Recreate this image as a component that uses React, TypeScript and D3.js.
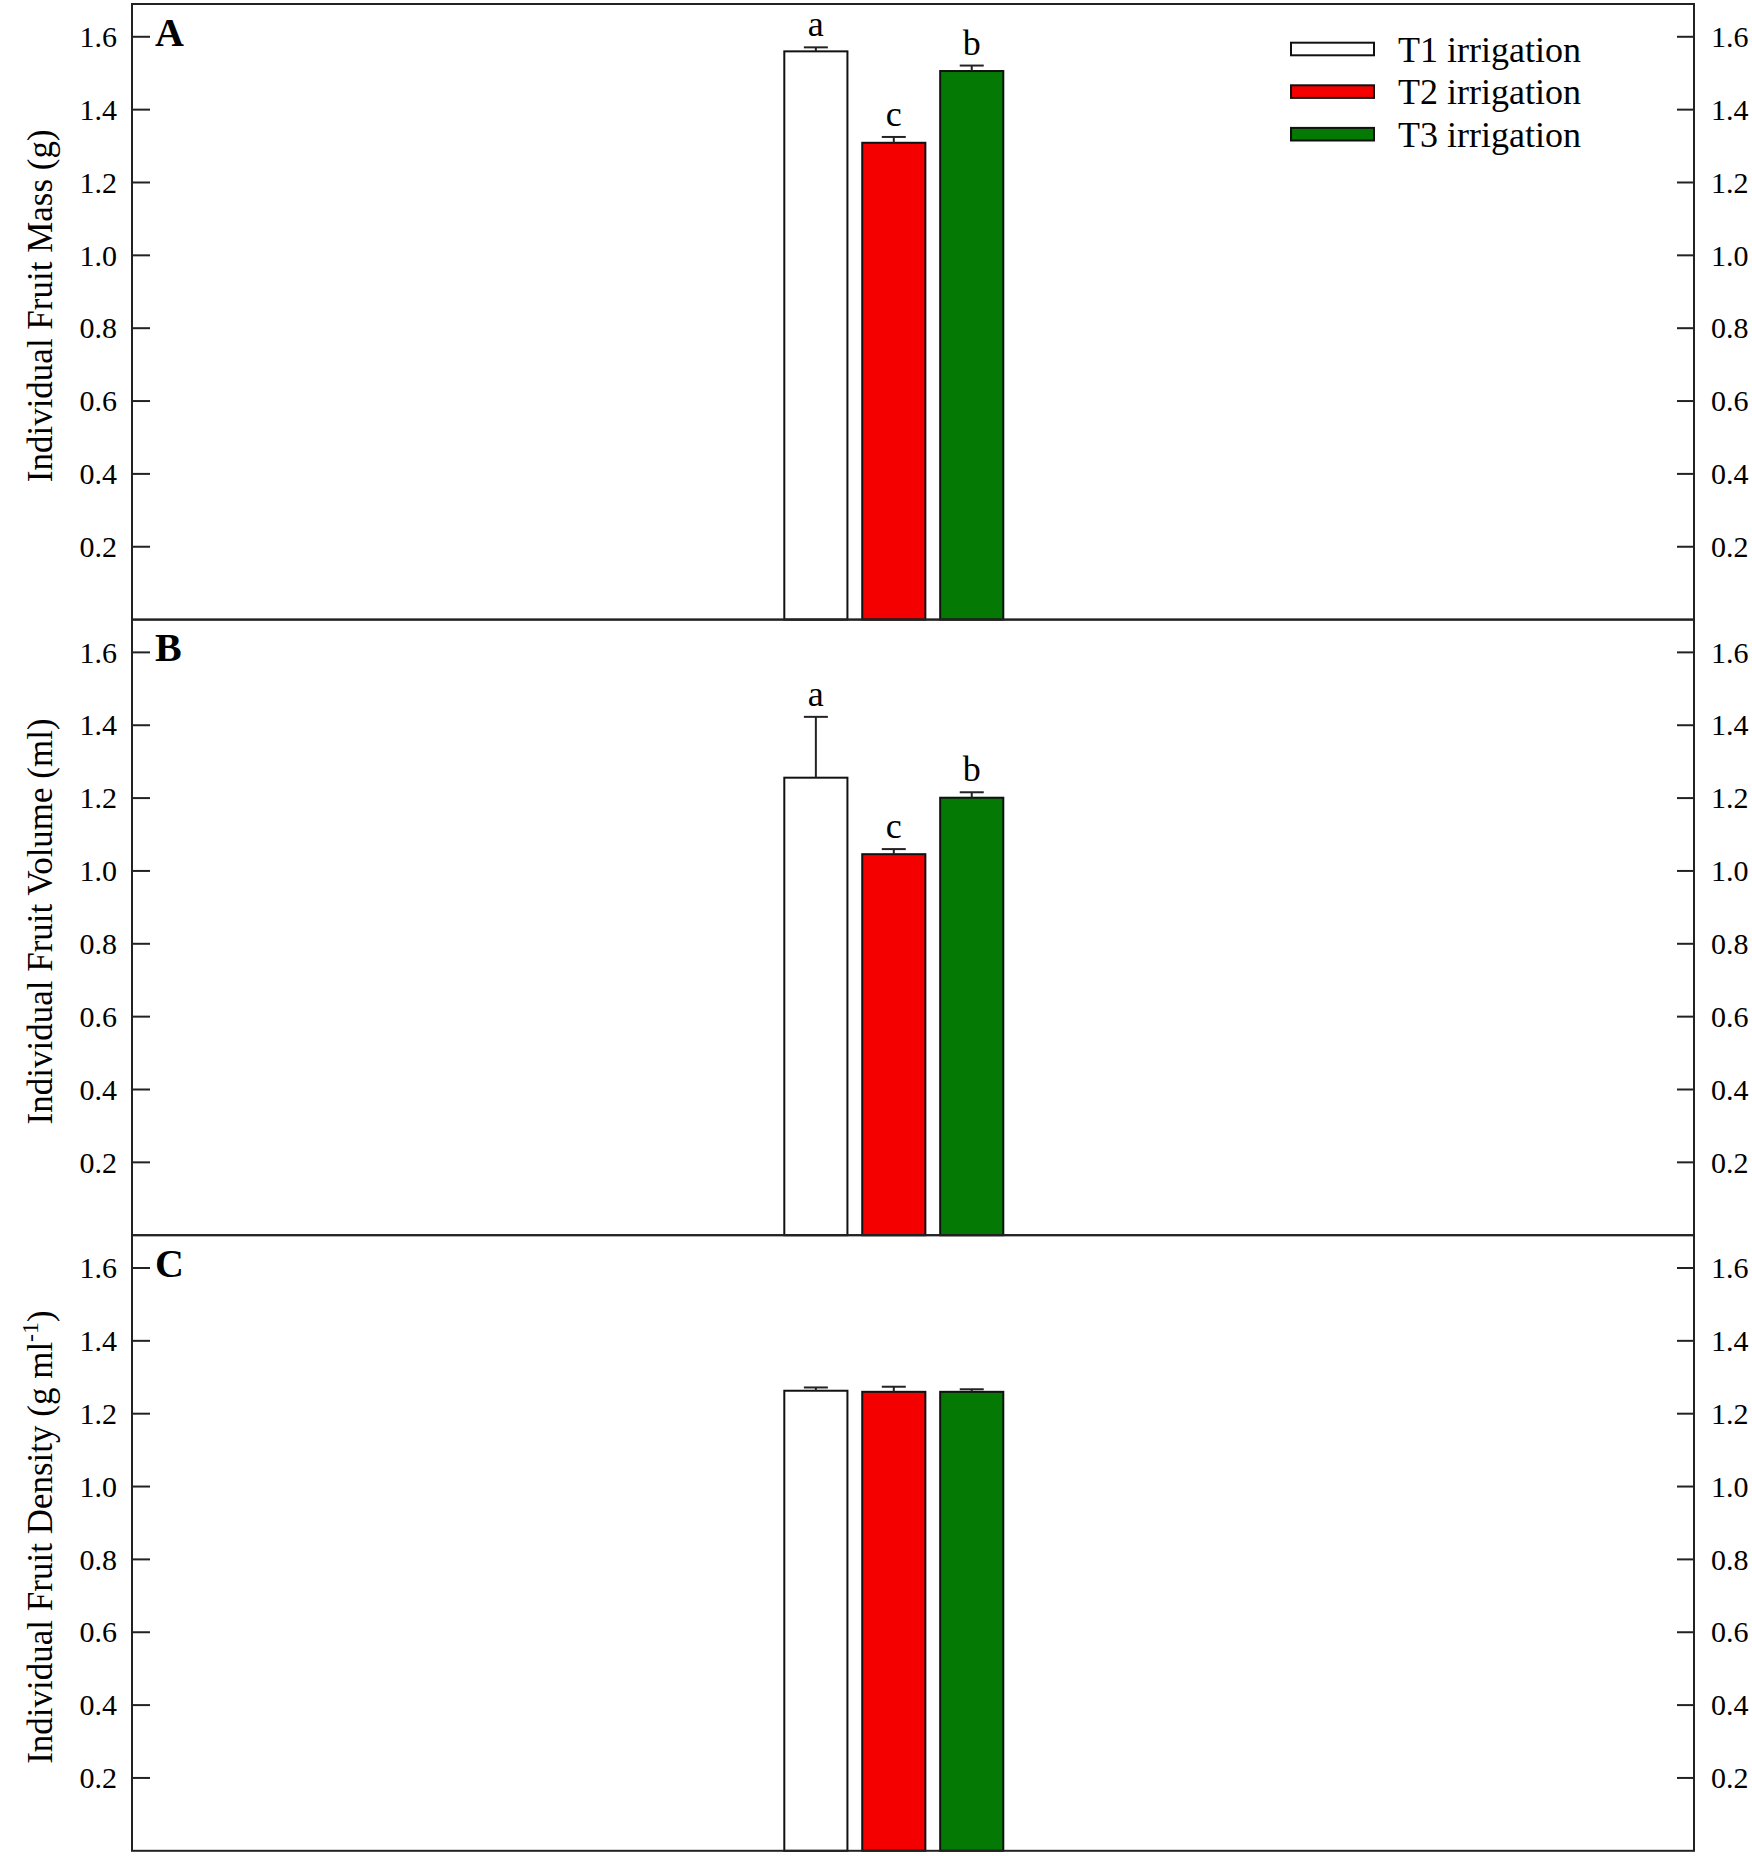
import React, { useEffect } from 'react';
import * as d3 from 'd3';

// treatments and their fill colours
const treatments = ['T1 irrigation', 'T2 irrigation', 'T3 irrigation'];
const barColors = ['#ffffff', '#f40000', '#047a04'];

// panel A: individual fruit mass (g)
const massMeans = [1.56, 1.309, 1.506];
const massErrors = [0.011, 0.016, 0.015];
const massLetters = ['a', 'c', 'b'];

// panel B: individual fruit volume (ml)
const volumeMeans = [1.256, 1.046, 1.201];
const volumeErrors = [0.167, 0.014, 0.015];
const volumeLetters = ['a', 'c', 'b'];

// panel C: individual fruit density (g ml-1)
const densityMeans = [1.263, 1.26, 1.26];
const densityErrors = [0.009, 0.014, 0.007];
const densityLetters = ['', '', ''];

const yTicks = [0.2, 0.4, 0.6, 0.8, 1.0, 1.2, 1.4, 1.6];
const yMax = 1.69;

const W = 1752;
const H = 1856;
const left = 132;
const right = 1694;
const top = 4;
const panelH = 615.6;
const font = '"Liberation Serif", "Times New Roman", serif';
const ink = '#222';

interface PanelProps {
  index: number;
  tag: string;
  means: number[];
  errors: number[];
  letters: string[];
  label: React.ReactNode;
  legend?: boolean;
}

const x = d3.scaleBand<string>()
  .domain(treatments)
  .range([784.3, 1003.3])
  .paddingInner(0.19)
  .paddingOuter(0);

const Panel = ({ index, tag, means, errors, letters, label, legend }: PanelProps) => {
  const y0 = top + index * panelH;
  const y = d3.scaleLinear().domain([0, yMax]).range([y0 + panelH, y0]);
  const capW = 24;

  return (
    <g>
      {treatments.map((t, i) => {
        const bx = x(t)!;
        const cx = bx + x.bandwidth() / 2;
        const yTop = y(means[i]);
        const yErr = y(means[i] + errors[i]);
        return (
          <g key={t}>
            <rect x={bx} y={yTop} width={x.bandwidth()} height={y(0) - yTop}
              fill={barColors[i]} stroke="#111" strokeWidth={2} />
            <line x1={cx} x2={cx} y1={yTop} y2={yErr} stroke={ink} strokeWidth={2} />
            <line x1={cx - capW / 2} x2={cx + capW / 2} y1={yErr} y2={yErr} stroke={ink} strokeWidth={2} />
            {letters[i] && (
              <text x={cx} y={yErr - 11} textAnchor="middle" fontSize={36} fontFamily={font}>
                {letters[i]}
              </text>
            )}
          </g>
        );
      })}

      {yTicks.map(v => (
        <g key={v}>
          <line x1={left} x2={left + 18} y1={y(v)} y2={y(v)} stroke={ink} strokeWidth={2} />
          <line x1={right - 17} x2={right} y1={y(v)} y2={y(v)} stroke={ink} strokeWidth={2} />
          <text x={117} y={y(v)} dy="0.34em" textAnchor="end" fontSize={30} fontFamily={font}>
            {v.toFixed(1)}
          </text>
          <text x={1711} y={y(v)} dy="0.34em" textAnchor="start" fontSize={30} fontFamily={font}>
            {v.toFixed(1)}
          </text>
        </g>
      ))}

      <rect x={left} y={y0} width={right - left} height={panelH} fill="none" stroke={ink} strokeWidth={2} />

      <text x={155} y={y(1.6) + 9} fontSize={40} fontWeight="bold" fontFamily={font}>{tag}</text>

      <text transform={`translate(52, ${y0 + panelH / 2 - 6}) rotate(-90)`} textAnchor="middle"
        fontSize={35} fontFamily={font}>
        {label}
      </text>

      {legend && treatments.map((t, i) => {
        const ly = 49 + i * 42.6;
        return (
          <g key={t}>
            <rect x={1291} y={ly - 6.3} width={83} height={12.6} fill={barColors[i]} stroke="#111" strokeWidth={2} />
            <text x={1398} y={ly} dy="0.35em" fontSize={36} fontFamily={font}>{t}</text>
          </g>
        );
      })}
    </g>
  );
};

export default function App() {
  useEffect(() => {
    document.body.style.margin = '0';
  }, []);

  return (
    <svg width={W} height={H} style={{ position: 'absolute', left: 0, top: 0, background: '#fff' }}>
      <rect width={W} height={H} fill="#fff" />
      <Panel index={0} tag="A" means={massMeans} errors={massErrors} letters={massLetters}
        label="Individual Fruit Mass (g)" legend />
      <Panel index={1} tag="B" means={volumeMeans} errors={volumeErrors} letters={volumeLetters}
        label="Individual Fruit Volume (ml)" />
      <Panel index={2} tag="C" means={densityMeans} errors={densityErrors} letters={densityLetters}
        label={<>Individual Fruit Density (g ml<tspan dy={-14} fontSize={24}>-1</tspan><tspan dy={14}>)</tspan></>} />
    </svg>
  );
}
